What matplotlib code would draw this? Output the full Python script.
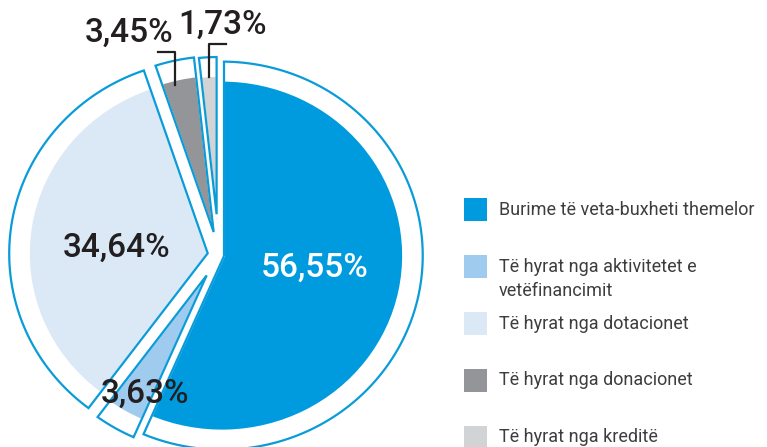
import math
import matplotlib
matplotlib.use("Agg")
import matplotlib.pyplot as plt
from matplotlib.patches import Polygon, Rectangle
from matplotlib.lines import Line2D
import numpy as np

plt.rcParams["font.family"] = ["Roboto", "DejaVu Sans"]

# data
labels = [
    "Burime të veta-buxheti themelor",
    "Të hyrat nga aktivitetet e\nvetëfinancimit",
    "Të hyrat nga dotacionet",
    "Të hyrat nga donacionet",
    "Të hyrat nga kreditë",
]
shares = [56.55, 3.63, 34.64, 3.45, 1.73]
pct_text = ["56,55%", "3,63%", "34,64%", "3,45%", "1,73%"]
colors = ["#009bdf", "#9fcbef", "#dbe9f7", "#939598", "#d1d3d4"]

W, H = 767, 447
SX = 1.035                  # image is a bit wider than tall
OUTLINE = "#0a9bd9"
DARK = "#231f20"

fig = plt.figure(figsize=(W / 100, H / 100), dpi=100)
ax = fig.add_axes([0, 0, 1, 1])


def px(x, y):
    # image pixel -> data coords
    return x / SX, H - y


center = px(218.9, 255)
explode = [3, 6, 8.7, 5, 4]
r_fill = 174
g_fill = 3.0
r_line = 194
g_line = 2.0

wedges, _ = ax.pie(
    shares, radius=r_fill + g_fill, center=center, startangle=90,
    counterclock=False, explode=explode, colors=colors,
    wedgeprops=dict(edgecolor="white", linewidth=2 * g_fill * 0.72),
)

# outline of each slice, pulled in a little from its edges
for w in wedges:
    cx, cy = w.center
    t1, t2 = math.radians(w.theta1), math.radians(w.theta2)
    half = (t2 - t1) / 2
    mid = t1 + half
    d = g_line / math.sin(half)
    vx, vy = cx + d * math.cos(mid), cy + d * math.sin(mid)
    a = math.asin(g_line / r_line)
    phi = np.linspace(t1 + a, t2 - a, 200)
    pts = [(vx, vy)] + list(zip(cx + r_line * np.cos(phi), cy + r_line * np.sin(phi)))
    ax.add_patch(Polygon(pts, closed=True, fill=False, edgecolor=OUTLINE,
                         linewidth=1.6, zorder=5))

ax.set_aspect("auto")
ax.set_xlim(0, W / SX)
ax.set_ylim(0, H)
ax.axis("off")

# percentage labels (image pixel positions)
lab_pos = [(315, 268), (145, 394), (117, 248), (129, 33), (223, 25)]
lab_col = ["white", DARK, DARK, DARK, DARK]
for t, (x, y), c in zip(pct_text, lab_pos, lab_col):
    fig.text(x / W, 1 - y / H, t, color=c, fontsize=24, fontweight="medium",
             ha="center", va="center", zorder=10)

# leader lines for the two small slices
for xs, ys in [([158, 175, 175], [52, 52, 85]), ([226, 209, 209], [44, 44, 77])]:
    fig.add_artist(Line2D([x / W for x in xs], [1 - y / H for y in ys],
                          color=DARK, linewidth=1.6, zorder=10))

# legend
leg_x, leg_y0, leg_step, sq = 464, 210, 56.8, 23
for i, (lab, c) in enumerate(zip(labels, colors)):
    yc = leg_y0 + i * leg_step
    fig.add_artist(Rectangle(((leg_x) / W, 1 - (yc + sq / 2) / H), sq / W, sq / H,
                             facecolor=c, edgecolor="none"))
    for k, line in enumerate(lab.split("\n")):
        fig.text(499 / W, 1 - (yc + k * 24) / H, line, color="#3d3d3d",
                 fontsize=13, ha="left", va="center")

fig.savefig("out.png", dpi=100)
